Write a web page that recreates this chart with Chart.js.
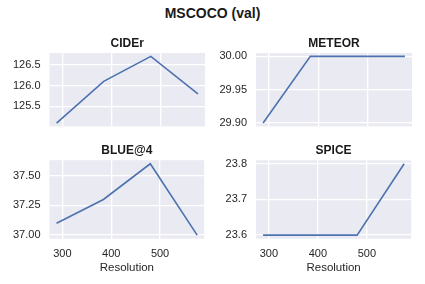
<!DOCTYPE html>
<html>
<head>
<meta charset="utf-8">
<script src="https://cdn.jsdelivr.net/npm/chart.js@4"></script>
<style>
  body { margin: 0; background: #fff; }
  #wrap { position: relative; width: 425px; height: 284px; font-family: "Liberation Sans", Arial, sans-serif; }
  #suptitle { position: absolute; left: 0; top: 5px; width: 425px; text-align: center; font-weight: bold; font-size: 14px; line-height: 16px; color: #1a1a1a; }
  .box { position: absolute; }
</style>
</head>
<body>
<div id="wrap">
  <div id="suptitle">MSCOCO (val)</div>
  <div class="box" style="left:0px;top:36px;width:205px;height:106px"><canvas id="cider"></canvas></div>
  <div class="box" style="left:206px;top:36px;width:206px;height:106px"><canvas id="meteor"></canvas></div>
  <div class="box" style="left:0px;top:142.8px;width:205px;height:141.2px"><canvas id="bleu"></canvas></div>
  <div class="box" style="left:206px;top:142.8px;width:206px;height:141.2px"><canvas id="spice"></canvas></div>
</div>
<script>
// data
const resolutions = [288, 384, 480, 576];
const resolutionTicks = [300, 400, 500];

const ciderValues = [125.1, 126.1, 126.7, 125.8];
const meteorValues = [29.9, 30.0, 30.0, 30.0];
const bleuValues = [37.1, 37.3, 37.6, 37.0];
const spiceValues = [23.6, 23.6, 23.6, 23.8];

const ciderTicks = [125.5, 126.0, 126.5];
const meteorTicks = [29.90, 29.95, 30.00];
const bleuTicks = [37.00, 37.25, 37.50];
const spiceTicks = [23.6, 23.7, 23.8];

const FONT = "'Liberation Sans', Arial, sans-serif";
const TEXT = "#262626";

// paint the seaborn-ish grey plot background
const plotBg = {
  id: "plotBg",
  beforeDraw(chart) {
    const a = chart.chartArea;
    const ctx = chart.ctx;
    ctx.save();
    ctx.fillStyle = "#EAEAF2";
    ctx.fillRect(a.left, a.top, a.right - a.left, a.bottom - a.top);
    ctx.restore();
  },
};

// matplotlib style 5% margin on each side
const padRange = (vals) => {
  const lo = Math.min(...vals), hi = Math.max(...vals);
  const m = (hi - lo) * 0.05;
  return [lo - m, hi + m];
};

function makeChart(id, title, values, yTicks, decimals, bottomRow, yWidth) {
  const [xMin, xMax] = padRange(resolutions);
  const [yMin, yMax] = padRange(values);
  return new Chart(document.getElementById(id), {
    type: "line",
    data: {
      datasets: [
        {
          data: resolutions.map((r, i) => ({ x: r, y: values[i] })),
          borderColor: "#4C72B0",
          borderWidth: 1.6,
          pointRadius: 0,
          tension: 0,
          fill: false,
        },
      ],
    },
    options: {
      responsive: true,
      maintainAspectRatio: false,
      animation: false,
      layout: { padding: { left: 0, right: 0, top: 0, bottom: bottomRow ? 0 : 10 } },
      plugins: {
        legend: { display: false },
        tooltip: { enabled: false },
        title: {
          display: true,
          text: title,
          fullSize: false, // center over the plot area only
          color: "#1a1a1a",
          font: { family: FONT, size: 12, weight: "bold", lineHeight: 1.2 },
          padding: { top: 0, bottom: bottomRow ? 2.8 : 2.6 },
        },
      },
      scales: {
        x: {
          type: "linear",
          min: xMin,
          max: xMax,
          afterBuildTicks: (s) => { s.ticks = resolutionTicks.map((v) => ({ value: v })); },
          afterFit: (s) => { s.height = bottomRow ? 45.5 : 0; },
          grid: { color: "#ffffff", lineWidth: 1.3, drawTicks: false },
          border: { display: false },
          ticks: {
            display: bottomRow,
            color: TEXT,
            padding: 8.5,
            maxRotation: 0,
            font: { family: FONT, size: 11 },
          },
          title: {
            display: bottomRow,
            text: "Resolution",
            color: TEXT,
            font: { family: FONT, size: 11.5 },
            padding: { top: 0, bottom: 9 },
          },
        },
        y: {
          type: "linear",
          min: yMin,
          max: yMax,
          afterBuildTicks: (s) => { s.ticks = yTicks.map((v) => ({ value: v })); },
          afterFit: (s) => { s.width = yWidth; },
          grid: { color: "#ffffff", lineWidth: 1.3, drawTicks: false },
          border: { display: false },
          ticks: {
            color: TEXT,
            padding: 9,
            font: { family: FONT, size: 11 },
            callback: (v) => Number(v).toFixed(decimals),
          },
        },
      },
    },
    plugins: [plotBg],
  });
}

makeChart("cider", "CIDEr", ciderValues, ciderTicks, 1, false, 49.5);
makeChart("meteor", "METEOR", meteorValues, meteorTicks, 2, false, 50);
makeChart("bleu", "BLUE@4", bleuValues, bleuTicks, 2, true, 49.5);
makeChart("spice", "SPICE", spiceValues, spiceTicks, 1, true, 50);
</script>
</body>
</html>
